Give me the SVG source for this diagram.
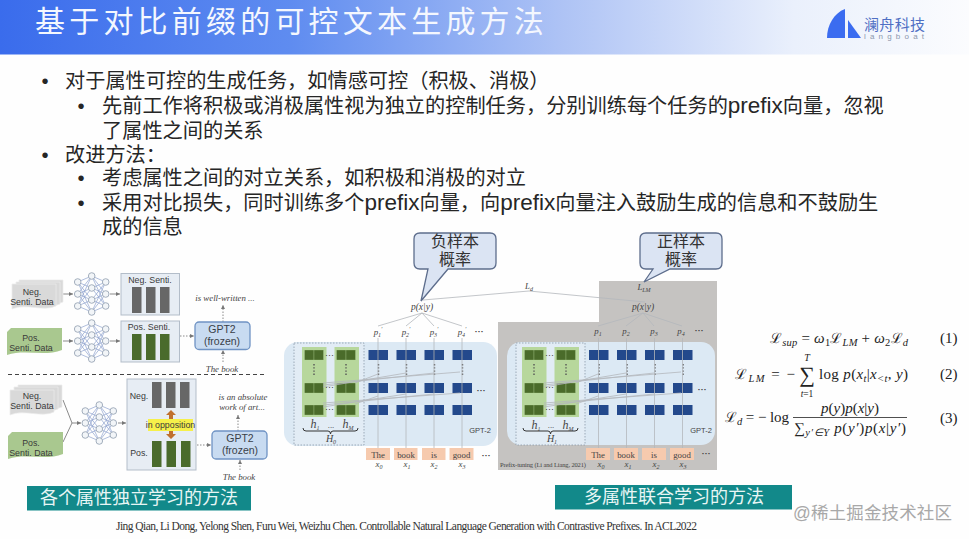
<svg xmlns="http://www.w3.org/2000/svg" width="969" height="539" viewBox="0 0 969 539">
<style>
text{font-family:"Liberation Sans","Noto Sans CJK SC",sans-serif;fill:#2a2a2a}
.body{font-size:20.2px;fill:#262626}
.pf{font-size:22.5px}
.title{font-size:30px;fill:#f4f7fe;letter-spacing:4.2px}
.teal{fill:#12898a}
.tealt{font-size:18px;fill:#e8f6f5;text-anchor:middle}
.call{fill:#dbe4f3;stroke:#5d6d8c;stroke-width:1.3}
.callt{font-size:16px;text-anchor:middle;fill:#333}
.small{font-size:8.8px;text-anchor:middle;fill:#3a3a3a}
.gpt{font-size:10.5px;text-anchor:middle;fill:#3a3f48}
.it{font-family:"Liberation Serif",serif;font-style:italic;font-size:8.8px;text-anchor:middle;fill:#444}
.ser{font-family:"Liberation Serif",serif;font-size:8.8px;text-anchor:middle;fill:#444}
.sub{font-size:6px}
.box{fill:#e7edf4;stroke:#b3bdc9;stroke-width:1}
.gptb{fill:#c8dbf1;stroke:#6f93c4;stroke-width:1.3}
.bg{fill:#676767}.bp{fill:#4a6b2c}
.doc{fill:#d9d9d9;stroke:#ececec;stroke-width:.7}
.docg{fill:#a9c88f}
.ln{stroke:#8a8a8a;stroke-width:1;fill:none}
.dot{stroke:#8a8a8a;stroke-width:1;fill:none;stroke-dasharray:1.5 1.5}
.pl{stroke:#b4b8bd;stroke-width:.8;fill:none}
.pan{fill:#dce9f4}
.inn{fill:#e2ecf5;stroke:#8c9ba8;stroke-width:.8;stroke-dasharray:1.5 1.5}
.gc{fill:#b7d79c}
.gr{fill:#4a6b2a;stroke:#b7d79c;stroke-width:.3}
.bl{fill:#23498c}
.sp{stroke:#183566;stroke-width:.6;fill:none}
.tok{fill:#f6caae}
.vd{stroke:#555;stroke-width:1.4;stroke-dasharray:1.4 1.8;fill:none}
.eq{font-family:"Liberation Serif",serif;font-size:15px;fill:#222}
.eqi{font-style:italic}
.cal{font-family:"DejaVu Serif",serif;font-size:14px}
.esub{font-size:10.5px}
.nn circle{fill:#f2f5f8;stroke:#9aa6b6;stroke-width:.9}
.nn path{stroke:#8ea2cf;stroke-width:.7;fill:none}
</style>
<defs>
<linearGradient id="hd" x1="0" x2="1" y1="0" y2="0">
<stop offset="0" stop-color="#3a6cec"/><stop offset=".3" stop-color="#5f8cf0"/><stop offset=".58" stop-color="#aec3f5"/><stop offset=".82" stop-color="#eaf0fc"/><stop offset="1" stop-color="#fbfcfe"/>
</linearGradient>
<marker id="ah" viewBox="0 0 6 6" refX="5" refY="3" markerWidth="5" markerHeight="5" orient="auto"><path d="M0 .5L5 3L0 5.5z" fill="#777"/></marker>
<g id="net" class="nn">
<path d="M-14-12L0-18M-14-12L0-6M-14-12L0 6M-14-12L0 18M-14 0L0-18M-14 0L0-6M-14 0L0 6M-14 0L0 18M-14 12L0-18M-14 12L0-6M-14 12L0 6M-14 12L0 18M14-12L0-18M14-12L0-6M14-12L0 6M14-12L0 18M14 0L0-18M14 0L0-6M14 0L0 6M14 0L0 18M14 12L0-18M14 12L0-6M14 12L0 6M14 12L0 18"/>
<circle cx="-14" cy="-12" r="3.3"/><circle cx="-14" cy="0" r="3.3"/><circle cx="-14" cy="12" r="3.3"/>
<circle cx="0" cy="-18" r="3.3"/><circle cx="0" cy="-6" r="3.3"/><circle cx="0" cy="6" r="3.3"/><circle cx="0" cy="18" r="3.3"/>
<circle cx="14" cy="-12" r="3.3"/><circle cx="14" cy="0" r="3.3"/><circle cx="14" cy="12" r="3.3"/>
</g>
<path id="dc" d="M0 0H44V22C32 28 14 19 0 25Z"/>
<path id="dp" d="M4 0H55V22C38 29 18 21 0 27V4Z"/>
<g id="cols">
<rect class="gc" x="0" y="0" width="24.500" height="70"/><rect class="gc" x="32.500" y="0" width="24.500" height="70"/>
<g id="grow"><rect class="gr" x="2.500" y="3" width="9.500" height="10"/><rect class="gr" x="12" y="3" width="9.500" height="10"/><rect class="gr" x="34.500" y="3" width="9.500" height="10"/><rect class="gr" x="44" y="3" width="9.500" height="10"/></g>
<use href="#grow" y="33"/><use href="#grow" y="55"/>
<path class="vd" d="M12 17V28M44 17V28"/>
<text class="small" x="27.500" y="11">···</text><text class="small" x="27.500" y="43">···</text><text class="small" x="27.500" y="65">···</text>
</g>
<g id="bcol"><rect class="bl" x="0" y="0" width="19.500" height="10"/><rect class="bl" x="0" y="33" width="19.500" height="10"/><rect class="bl" x="0" y="55" width="19.500" height="10"/><path class="sp" d="M9.750 0V10M9.750 33V43M9.750 55V65"/><path class="vd" d="M10 14V25"/></g>
<path id="brace" d="M0 0Q0 3 3 3H25Q27.500 3 27.500 6Q27.500 3 30 3H52Q55 3 55 0" fill="none" stroke="#333" stroke-width="1"/>
</defs>

<rect width="969" height="539" fill="#fefefe"/>
<g id="header">
<rect width="969" height="54.500" fill="url(#hd)"/>
<text class="title" x="35" y="32">基于对比前缀的可控文本生成方法</text>
</g>
<g id="logo">
<path d="M827 38C827 25 834 13 845 9V38Z" fill="#3b6cf0"/>
<path d="M848 20L861 38H848Z" fill="#3b6cf0"/>
<text x="864" y="30" font-size="15" style="fill:#4f6fc4" textLength="61">澜舟科技</text>
<text x="864" y="39" font-size="8" style="fill:#8c97ad" textLength="60">langboat</text>
</g>
<g id="bullets">
<text class="body" x="45" y="88" text-anchor="middle">•</text>
<text class="body" x="65" y="88">对于属性可控的生成任务，如情感可控（积极、消极）</text>
<text class="body" x="81" y="113" text-anchor="middle">•</text>
<text class="body" x="102" y="113">先前工作将积极或消极属性视为独立的控制任务，分别训练每个任务的<tspan class="pf">prefix</tspan>向量，忽视</text>
<text class="body" x="102" y="138">了属性之间的关系</text>
<text class="body" x="45" y="162" text-anchor="middle">•</text>
<text class="body" x="65" y="162">改进方法：</text>
<text class="body" x="81" y="185" text-anchor="middle">•</text>
<text class="body" x="102" y="185">考虑属性之间的对立关系，如积极和消极的对立</text>
<text class="body" x="81" y="210" text-anchor="middle">•</text>
<text class="body" x="102" y="210">采用对比损失，同时训练多个<tspan class="pf">prefix</tspan>向量，向<tspan class="pf">prefix</tspan>向量注入鼓励生成的信息和不鼓励生</text>
<text class="body" x="102" y="234">成的信息</text>
</g>

<g id="left-connectors">
<path class="ln" marker-end="url(#ah)" d="M63 294H73"/><path class="ln" marker-end="url(#ah)" d="M110 294H120"/>
<path class="ln" marker-end="url(#ah)" d="M63 341H73"/><path class="ln" marker-end="url(#ah)" d="M110 341H120"/>
<path class="ln" d="M63 400L72 423M63 442L72 423"/><path class="ln" marker-end="url(#ah)" d="M72 423H81"/><path class="ln" marker-end="url(#ah)" d="M118 423H126"/>
<path class="dot" marker-end="url(#ah)" d="M180 336H194"/><path class="dot" marker-end="url(#ah)" d="M223 322V305"/><path class="dot" marker-end="url(#ah)" d="M223 362V350"/>
<path class="dot" marker-end="url(#ah)" d="M197 445H211"/><path class="dot" marker-end="url(#ah)" d="M238 431V415"/><path class="dot" marker-end="url(#ah)" d="M240 470V460"/>
<path d="M8 374.500H267" stroke="#444" stroke-width="1" stroke-dasharray="4 3" fill="none"/>
</g>
<g id="neg-data-1">
<use href="#dc" class="doc" x="19" y="280"/><use href="#dc" class="doc" x="16" y="282"/><use href="#dc" class="doc" x="12" y="284"/>
<text class="small" x="32" y="295">Neg.</text><text class="small" x="32" y="305">Senti. Data</text>
</g>
<g id="pos-data-1"><use href="#dp" class="docg" x="7" y="328"/><text class="small" x="31" y="341">Pos.</text><text class="small" x="31" y="351">Senti. Data</text></g>
<g id="net-1"><use href="#net" x="91.700" y="294"/></g>
<g id="net-2"><use href="#net" x="91.700" y="341"/></g>
<g id="neg-senti"><rect class="box" x="121" y="273.500" width="58.500" height="41.500"/><text class="small" x="150" y="283">Neg. Senti.</text>
<rect class="bg" x="132" y="287" width="9.500" height="26"/><rect class="bg" x="146" y="287" width="9.500" height="26"/><rect class="bg" x="160" y="287" width="9.500" height="26"/></g>
<g id="pos-senti"><rect class="box" x="121" y="321" width="58.500" height="41"/><text class="small" x="149" y="330">Pos. Senti.</text>
<rect class="bp" x="132" y="334" width="9.500" height="26"/><rect class="bp" x="146" y="334" width="9.500" height="26"/><rect class="bp" x="160" y="334" width="9.500" height="26"/></g>
<g id="gpt2-1"><rect class="gptb" x="195" y="322" width="55" height="27.500" rx="4"/><text class="gpt" x="222" y="332.500">GPT2</text><text class="gpt" x="222" y="345">(frozen)</text></g>
<text class="it" x="225" y="301">is well-written ...</text>
<text class="it" x="222" y="371.500">The book</text>

<g id="neg-data-2">
<use href="#dc" class="doc" x="18" y="385"/><use href="#dc" class="doc" x="14" y="387"/><use href="#dc" class="doc" x="10" y="390"/>
<text class="small" x="32" y="399">Neg.</text><text class="small" x="32" y="409">Senti. Data</text>
</g>
<g id="pos-data-2"><use href="#dp" class="docg" x="8" y="432"/><text class="small" x="31" y="446">Pos.</text><text class="small" x="31" y="456">Senti. Data</text></g>
<g id="net-3"><use href="#net" x="99.300" y="423"/></g>
<g id="opposition"><rect class="box" x="127" y="379" width="69" height="91"/>
<text class="small" x="139" y="399">Neg.</text><text class="small" x="139" y="456">Pos.</text>
<rect class="bg" x="152" y="382" width="9.500" height="26"/><rect class="bg" x="166" y="382" width="9.500" height="26"/><rect class="bg" x="180" y="382" width="9.500" height="26"/>
<rect class="bp" x="152" y="441" width="9.500" height="26"/><rect class="bp" x="166.500" y="441" width="9.500" height="26"/><rect class="bp" x="181" y="441" width="9.500" height="26"/>
<path d="M171 410L176 415H173V419H169V415H166ZM171 439L176 434H173V431H169V434H166Z" fill="#c0702e"/>
<rect x="148" y="419" width="45" height="12" fill="#f6f04a"/><text class="small" x="170.500" y="428">in opposition</text></g>
<g id="gpt2-2"><rect class="gptb" x="212" y="431" width="55" height="28" rx="4"/><text class="gpt" x="240" y="441.500">GPT2</text><text class="gpt" x="240" y="454">(frozen)</text></g>
<text class="it" x="243" y="400">is an absolute</text><text class="it" x="242" y="410">work of art...</text>
<text class="it" x="239" y="480">The book</text>
<g id="label-left"><rect class="teal" x="27" y="486" width="224" height="24.500"/><text class="tealt" x="139" y="504">各个属性独立学习的方法</text></g>

<g id="model-neg">
<rect class="pan" x="284" y="342" width="213" height="104" rx="14"/>
<rect class="inn" x="294" y="343" width="70" height="102"/>
<use href="#cols" x="302" y="347"/>
<use href="#bcol" x="368.500" y="350"/><use href="#bcol" x="396.500" y="350"/><use href="#bcol" x="424.500" y="350"/><use href="#bcol" x="452.500" y="350"/>
<text class="ser" x="486" y="458" style="font-weight:bold">···</text>
<text class="ser" x="481" y="393" style="font-weight:bold">···</text>
<text class="ser" x="479" y="334" style="font-weight:bold">···</text>
<text class="it" x="315" y="428" style="font-size:12px">h<tspan class="sub" dy="2">1</tspan></text>
<text class="ser" x="331" y="428">...</text>
<text class="it" x="348" y="428" style="font-size:12px">h<tspan class="sub" dy="2">M</tspan></text>
<use href="#brace" x="303" y="428"/>
<text class="it" x="331" y="442" style="font-size:10px">H<tspan class="sub" dy="2">0</tspan></text>
<text x="480" y="433" style="font-size:7.500px;text-anchor:middle;fill:#444">GPT-2</text>
<text class="it" x="422" y="310" style="font-size:9.500px">p(x|y)</text>
<g><rect class="tok" x="366" y="448" width="24" height="12"/><rect class="tok" x="394" y="448" width="23.500" height="12"/><rect class="tok" x="422" y="448" width="23.500" height="12"/><rect class="tok" x="449.500" y="448" width="24" height="12"/></g>
<text class="ser" x="378" y="457.500">The</text><text class="ser" x="406" y="457.500">book</text><text class="ser" x="434" y="457.500">is</text><text class="ser" x="461.500" y="457.500">good</text>
<text class="it" x="378" y="335">p<tspan class="sub" dy="2">1</tspan><tspan class="sub" dy="-6">′</tspan></text><text class="it" x="406" y="335">p<tspan class="sub" dy="2">2</tspan><tspan class="sub" dy="-6">′</tspan></text><text class="it" x="434" y="335">p<tspan class="sub" dy="2">3</tspan><tspan class="sub" dy="-6">′</tspan></text><text class="it" x="462" y="335">p<tspan class="sub" dy="2">4</tspan><tspan class="sub" dy="-6">′</tspan></text>
<text class="it" x="379" y="467">x<tspan class="sub" dy="2">0</tspan></text><text class="it" x="407" y="467">x<tspan class="sub" dy="2">1</tspan></text><text class="it" x="434" y="467">x<tspan class="sub" dy="2">2</tspan></text><text class="it" x="462" y="467">x<tspan class="sub" dy="2">3</tspan></text>
</g>

<g id="model-pos">
<path d="M599 281H717V470H498V322H599Z" fill="#c5c3c1"/>
<rect class="pan" x="507" y="342" width="208" height="103" rx="14"/>
<rect class="inn" x="516" y="343" width="69" height="102"/>
<use href="#cols" x="522" y="347"/>
<use href="#bcol" x="589" y="350"/><use href="#bcol" x="617" y="350"/><use href="#bcol" x="645" y="350"/><use href="#bcol" x="673" y="350"/>
<text class="ser" x="706" y="456" style="font-weight:bold">···</text>
<text class="ser" x="702" y="392" style="font-weight:bold">···</text>
<text class="ser" x="699" y="333" style="font-weight:bold">···</text>
<text class="it" x="536" y="429" style="font-size:12px">h<tspan class="sub" dy="2">1</tspan></text>
<text class="ser" x="551" y="428">...</text>
<text class="it" x="568" y="429" style="font-size:12px">h<tspan class="sub" dy="2">M</tspan></text>
<use href="#brace" x="523" y="428"/>
<text class="it" x="552" y="442" style="font-size:10px">H<tspan class="sub" dy="2">1</tspan></text>
<text x="701" y="433" style="font-size:7.500px;text-anchor:middle;fill:#444">GPT-2</text>
<text class="it" x="643" y="310" style="font-size:9.500px">p(x|y)</text>
<text class="it" x="644" y="290">L<tspan class="sub" dy="1.500">LM</tspan></text>
<g><rect class="tok" x="586" y="448" width="24" height="12"/><rect class="tok" x="614" y="448" width="24" height="12"/><rect class="tok" x="642" y="448" width="24" height="12"/><rect class="tok" x="670" y="448" width="24" height="12"/></g>
<text class="ser" x="598" y="457.500">The</text><text class="ser" x="626" y="457.500">book</text><text class="ser" x="654" y="457.500">is</text><text class="ser" x="682" y="457.500">good</text>
<text class="it" x="598" y="334">p<tspan class="sub" dy="2">1</tspan></text><text class="it" x="626" y="334">p<tspan class="sub" dy="2">2</tspan></text><text class="it" x="654" y="334">p<tspan class="sub" dy="2">3</tspan></text><text class="it" x="681" y="334">p<tspan class="sub" dy="2">4</tspan></text>
<text class="it" x="601" y="467">x<tspan class="sub" dy="2">0</tspan></text><text class="it" x="628" y="467">x<tspan class="sub" dy="2">1</tspan></text><text class="it" x="656" y="467">x<tspan class="sub" dy="2">2</tspan></text><text class="it" x="683" y="467">x<tspan class="sub" dy="2">3</tspan></text>
<text class="ser" x="543" y="467" style="font-size:6.500px" textLength="86" lengthAdjust="spacing">Prefix-tuning (Li and Liang, 2021)</text>
</g>

<g id="model-connectors">
<path class="pl" d="M423 300L529 291L645 302"/>
<path class="pl" d="M422 313L378 326M422 313L406 326M422 313L434 326M422 313L462 326M643 313L598 326M643 313L626 326M643 313L654 326M643 313L682 326"/>
<path class="pl" d="M378 338V448M406 338V448M434 338V448M462 338V448M598.500 338V448M626.500 338V448M654.500 338V448M682.500 338V448"/>
<path class="pl" d="M323 383L460 372M323 385L434 373M323 387L406 373M355 383L378 374M323 403L460 393M323 405L434 394M323 407L406 394M355 404L378 396"/>
<path class="pl" d="M544 383L681 372M544 385L654 373M544 387L626 373M576 383L598 374M544 403L681 393M544 405L654 394M544 407L626 394M576 404L598 396"/>
<text class="it" x="529" y="289">L<tspan class="sub" dy="1.500">d</tspan></text>
</g>

<g id="callout-neg"><path class="call" d="M420 233H490Q496 233 496 239V263Q496 269 490 269H448L421 301L428 269H420Q414 269 414 263V239Q414 233 420 233Z"/>
<text class="callt" x="455" y="247">负样本</text><text class="callt" x="455" y="265">概率</text></g>
<g id="callout-pos"><path class="call" d="M646 233H716Q722 233 722 239V263Q722 269 716 269H670L644 282L653 269H646Q640 269 640 263V239Q640 233 646 233Z"/>
<text class="callt" x="681" y="247">正样本</text><text class="callt" x="681" y="265">概率</text></g>

<g id="label-right"><rect class="teal" x="555" y="485" width="237" height="24.500"/><text class="tealt" x="674" y="503">多属性联合学习的方法</text></g>

<g id="equations">
<text class="eq" x="770" y="343" textLength="138"><tspan class="cal">ℒ</tspan><tspan class="esub eqi" dy="3">sup</tspan><tspan dy="-3"> = </tspan><tspan class="eqi">ω</tspan><tspan class="esub" dy="3">1</tspan><tspan class="cal" dy="-3">ℒ</tspan><tspan class="esub eqi" dy="3">LM</tspan><tspan dy="-3"> + </tspan><tspan class="eqi">ω</tspan><tspan class="esub" dy="3">2</tspan><tspan class="cal" dy="-3">ℒ</tspan><tspan class="esub eqi" dy="3">d</tspan></text>
<text class="eq" x="735" y="379" textLength="60"><tspan class="cal">ℒ</tspan><tspan class="esub eqi" dy="3">LM</tspan><tspan dy="-3"> = −</tspan></text>
<text class="eq" x="807" y="382" text-anchor="middle" style="font-size:22px">∑</text>
<text class="eq eqi" x="807" y="360.500" text-anchor="middle" style="font-size:10px">T</text>
<text class="eq" x="807" y="397" text-anchor="middle" style="font-size:9.500px"><tspan class="eqi">t</tspan>=1</text>
<text class="eq" x="819" y="379" textLength="89">log <tspan class="eqi">p</tspan>(<tspan class="eqi">x</tspan><tspan class="esub eqi" dy="3">t</tspan><tspan dy="-3">|</tspan><tspan class="eqi">x</tspan><tspan class="esub eqi" dy="3">&lt;t</tspan><tspan dy="-3">, </tspan><tspan class="eqi">y</tspan>)</text>
<text class="eq" x="725" y="422" textLength="64"><tspan class="cal">ℒ</tspan><tspan class="esub eqi" dy="3">d</tspan><tspan dy="-3"> = − log</tspan></text>
<text class="eq" x="850" y="412.500" text-anchor="middle"><tspan class="eqi">p</tspan>(<tspan class="eqi">y</tspan>)<tspan class="eqi">p</tspan>(<tspan class="eqi">x</tspan>|<tspan class="eqi">y</tspan>)</text>
<path d="M793 417.500H907" stroke="#222" stroke-width=".8"/>
<text class="eq" x="794" y="433" textLength="112"><tspan style="font-size:15px">∑</tspan><tspan class="esub eqi" dy="3">y′∈Y</tspan><tspan dy="-3"> </tspan><tspan class="eqi">p</tspan>(<tspan class="eqi">y′</tspan>)<tspan class="eqi">p</tspan>(<tspan class="eqi">x</tspan>|<tspan class="eqi">y′</tspan>)</text>
<text class="eq" x="940" y="343">(1)</text><text class="eq" x="940" y="379">(2)</text><text class="eq" x="940" y="423">(3)</text>
</g>

<text x="116" y="530" textLength="581" style="font-family:'Liberation Serif',serif;font-size:11.500px;fill:#333">Jing Qian, Li Dong, Yelong Shen, Furu Wei, Weizhu Chen. Controllable Natural Language Generation with Contrastive Prefixes. In ACL2022</text>
<text x="793" y="519" textLength="159" style="font-size:17.500px;fill:#a8a8a8">@稀土掘金技术社区</text>
</svg>
